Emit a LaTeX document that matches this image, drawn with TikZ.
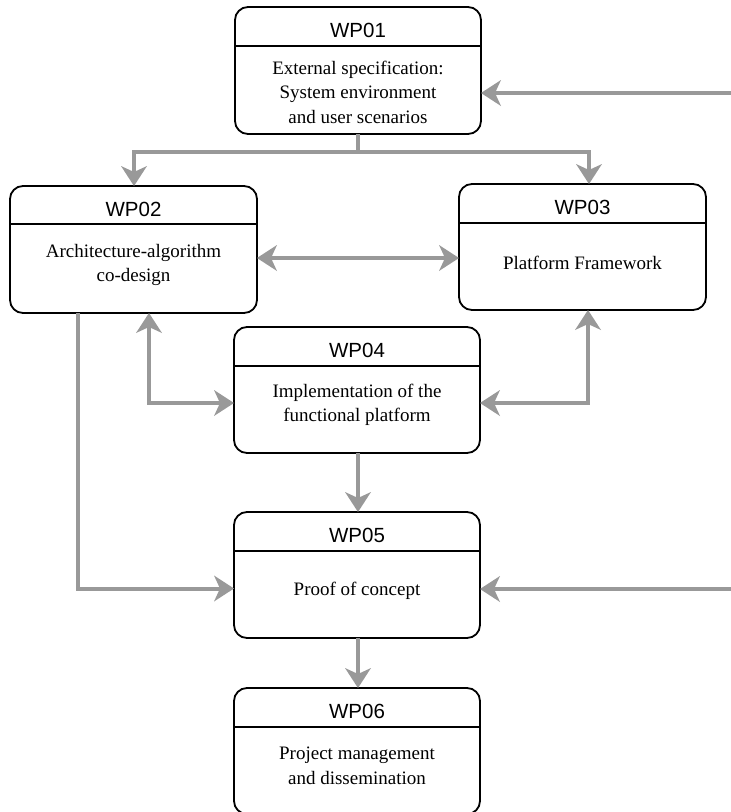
\documentclass[tikz,border=0pt]{standalone}
\usepackage{fontspec}
\setmainfont{Liberation Serif}
\newfontfamily\hdrfont{Liberation Sans}
\usetikzlibrary{arrows.meta,calc}
\definecolor{arrgray}{HTML}{999999}
\tikzset{
  wpbox/.style={draw=black, fill=white, line width=1.8pt, rounded corners=13pt,
    minimum width=246pt, minimum height=127pt, inner sep=0pt, outer sep=0pt},
  hdrline/.style={draw=black, line width=1.8pt},
  hdr/.style={font=\hdrfont\fontsize{20.5}{24}\selectfont, inner sep=0pt},
  body/.style={font=\fontsize{19}{24.5}\selectfont, align=center, inner sep=0pt},
  tipx/.tip={Stealth[length=20pt,width=26pt,inset=6pt,line width=0pt]},
  arrline/.style={draw=arrgray, line width=4pt},
  arr/.style={arrline, -tipx},
  darr/.style={arrline, tipx-tipx},
}
\begin{document}
\begin{tikzpicture}[x=1pt,y=-1pt]
\useasboundingbox (0,0) rectangle (731,812);
\fill[white] (0,0) rectangle (731,812);

% WP01
\node[wpbox, minimum width=246pt, minimum height=127pt] (wp1) at (358,70.5) {};
\draw[hdrline] (wp1.north west |- 0,46) -- (wp1.north east |- 0,46);
\node[hdr] (h1) at (358,30) {WP01};
\node[body] (b1) at (358,92) {External specification:\\System environment\\and user scenarios};

% WP02
\node[wpbox, minimum width=247pt, minimum height=127pt] (wp2) at (133.5,249.5) {};
\draw[hdrline] (wp2.north west |- 0,224) -- (wp2.north east |- 0,224);
\node[hdr] (h2) at (133.5,209) {WP02};
\node[body] (b2) at (133.5,265) {Architecture-algorithm\\co-design};

% WP03
\node[wpbox, minimum width=247pt, minimum height=126pt] (wp3) at (582.5,247) {};
\draw[hdrline] (wp3.north west |- 0,223) -- (wp3.north east |- 0,223);
\node[hdr] (h3) at (582.5,207.5) {WP03};
\node[body] (b3) at (582.5,263) {Platform Framework};

% WP04
\node[wpbox, minimum width=246pt, minimum height=126pt] (wp4) at (357,390) {};
\draw[hdrline] (wp4.north west |- 0,366) -- (wp4.north east |- 0,366);
\node[hdr] (h4) at (357,350) {WP04};
\node[body] (b4) at (357,405) {Implementation of the\\functional platform};

% WP05
\node[wpbox, minimum width=246pt, minimum height=126pt] (wp5) at (357,575) {};
\draw[hdrline] (wp5.north west |- 0,551) -- (wp5.north east |- 0,551);
\node[hdr] (h5) at (357,535) {WP05};
\node[body] (b5) at (357,591) {Proof of concept};

% WP06
\node[wpbox, minimum width=246pt, minimum height=126pt] (wp6) at (357,751) {};
\draw[hdrline] (wp6.north west |- 0,727) -- (wp6.north east |- 0,727);
\node[hdr] (h6) at (357,711) {WP06};
\node[body] (b6) at (357,766) {Project management\\and dissemination};

% connectors
\coordinate (split) at (358,152);
\draw[arrline] (wp1.south) -- (split);
\draw[arr] (split) -| ([xshift=0.5pt]wp2.north);
\draw[arr] (split) -| ([xshift=6.5pt]wp3.north);

\coordinate (in1) at (731,93);
\draw[arr] (in1) -- (in1 -| wp1.east);

\draw[darr] ([yshift=-8.5pt]wp2.east) -- ([yshift=-8.5pt]wp2.east -| wp3.west);

\draw[arr] ([xshift=-55.5pt]wp2.south) |- ([yshift=-13.5pt]wp5.west);
\draw[darr] ([xshift=15.5pt]wp2.south) |- ([yshift=-13pt]wp4.west);
\draw[darr] ([xshift=5.5pt]wp3.south) |- ([yshift=-13pt]wp4.east);

\draw[arr] ([xshift=1pt]wp4.south) -- ([xshift=1pt]wp5.north);
\draw[arr] ([xshift=1pt]wp5.south) -- ([xshift=1pt]wp6.north);

\coordinate (in5) at (731,589);
\draw[arr] (in5) -- (in5 -| wp5.east);
\end{tikzpicture}
\end{document}
